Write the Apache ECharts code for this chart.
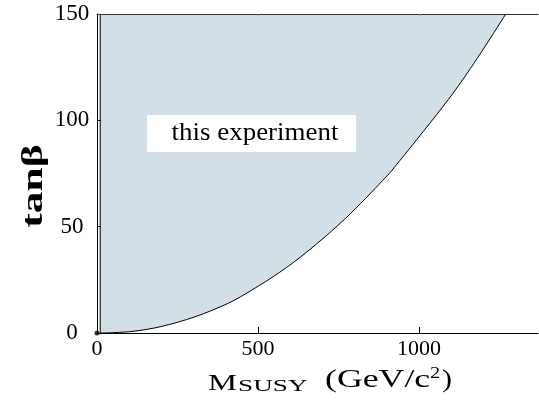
<!DOCTYPE html>
<html>
<head>
<meta charset="utf-8">
<script src="https://cdn.jsdelivr.net/npm/echarts@6/dist/echarts.min.js"></script>
<style>html,body{margin:0;padding:0;background:#fff}#c{width:539px;height:403px}</style>
</head>
<body>
<div id="c"></div>
<script>
// ---- data ----
const xTicks = [0, 500, 1000];
const yTicks = [0, 50, 100, 150];
// lower-right boundary of the region covered (M_SUSY in GeV/c^2, tan beta)
const curveM   = [10, 56, 118, 201, 304, 408, 481, 568, 656, 772, 888, 941, 1091, 1181, 1270];
const curveTan = [0, 0.2, 0.9, 3.1, 7.6, 14.0, 20.2, 28.6, 38.6, 53.9, 71.8, 81.1, 109.7, 129.1, 150];
// left edge of the region
const leftEdgeM = 10;
const originPoint = [[0, 0]];
const regionLabel = 'this experiment';

const xMin = 0, xMax = 1370, yMin = 0, yMax = 150;
const SERIF = '"Liberation Serif", "Times New Roman", serif';

const curveData = curveM.map((m, i) => [m, curveTan[i]]);

// smooth drawing path (Catmull-Rom rendered as cubic Bezier) through pixel points
function curvePath(pts) {
  let d = '';
  for (let i = 0; i < pts.length - 1; i++) {
    const p0 = pts[Math.max(0, i - 1)], p1 = pts[i], p2 = pts[i + 1], p3 = pts[Math.min(pts.length - 1, i + 2)];
    const c1 = [p1[0] + (p2[0] - p0[0]) / 6, p1[1] + (p2[1] - p0[1]) / 6];
    const c2 = [p2[0] - (p3[0] - p1[0]) / 6, p2[1] - (p3[1] - p1[1]) / 6];
    d += ' C' + c1[0] + ' ' + c1[1] + ' ' + c2[0] + ' ' + c2[1] + ' ' + p2[0] + ' ' + p2[1];
  }
  return d;
}

const chart = echarts.init(document.getElementById('c'), null, {renderer: 'canvas'});
chart.setOption({
  animation: false,
  backgroundColor: '#fff',
  grid: {left: 97, right: 1, top: 14, bottom: 70, containLabel: false},
  xAxis: [{
    type: 'value', min: xMin, max: xMax, interval: 500, position: 'bottom', z: 10,
    splitLine: {show: false},
    axisLine: {show: true, onZero: false, lineStyle: {color: '#000', width: 1}},
    axisTick: {show: true, inside: true, length: 6, customValues: xTicks.slice(1), lineStyle: {color: '#000'}},
    axisLabel: {customValues: xTicks, formatter: v => String(v), color: '#000', fontFamily: SERIF, fontSize: 22, margin: 5}
  }, {
    type: 'value', min: xMin, max: xMax, interval: 500, position: 'top', z: 10,
    splitLine: {show: false},
    axisLine: {show: true, onZero: false, lineStyle: {color: '#333', width: 1}},
    axisTick: {show: true, inside: true, length: 2, customValues: xTicks.slice(1), lineStyle: {color: '#999'}},
    axisLabel: {show: false}
  }],
  yAxis: [{
    type: 'value', min: yMin, max: yMax, interval: 50, z: 10,
    splitLine: {show: false},
    axisLine: {show: true, onZero: false, lineStyle: {color: '#000', width: 1}},
    axisTick: {show: true, inside: true, length: 4, customValues: yTicks.slice(1, 3), lineStyle: {color: '#000'}},
    axisLabel: {customValues: yTicks, formatter: v => String(v), color: '#000', fontFamily: SERIF, fontSize: 23, margin: 25, align: 'center'}
  }],
  series: [{
    type: 'custom',
    data: curveData,
    clip: true,
    z: 1,
    renderItem: function (params, api) {
      if (params.dataIndex !== 0) return null;
      const pts = curveData.map(p => api.coord(p));
      const topLeft = api.coord([leftEdgeM, yMax]);
      const c = curvePath(pts);
      const fillPath = 'M' + topLeft[0] + ' ' + topLeft[1] + ' L' + pts[0][0] + ' ' + pts[0][1] + c + ' Z';
      const linePath = 'M' + pts[0][0] + ' ' + pts[0][1] + c;
      return {
        type: 'group',
        children: [
          {type: 'path', shape: {pathData: fillPath}, style: {fill: '#d3dfe6', stroke: null}},
          {type: 'path', shape: {pathData: linePath}, style: {fill: null, stroke: '#000', lineWidth: 1}},
          {type: 'line', shape: {x1: topLeft[0], y1: topLeft[1], x2: pts[0][0], y2: pts[0][1]},
            style: {stroke: '#000', lineWidth: 1}}
        ]
      };
    }
  }, {
    type: 'scatter',
    data: originPoint,
    symbolSize: 5,
    itemStyle: {color: '#000'},
    z: 5
  }],
  graphic: [
    {type: 'rect', shape: {x: 147, y: 115, width: 209, height: 37}, style: {fill: '#fff'}, z: 10},
    {type: 'text', x: 255, y: 133.5, scaleX: 1.1, z: 11,
      style: {text: regionLabel, x: 0, y: 0, font: '24.5px ' + SERIF, fill: '#000', align: 'center', verticalAlign: 'middle'}},
    {type: 'text', x: 35, y: 186, rotation: Math.PI / 2, scaleX: 1.5, z: 11,
      style: {text: 'tanβ', x: 0, y: 0, font: 'bold 29px ' + SERIF, fill: '#000', align: 'center', verticalAlign: 'middle'}},
    {type: 'text', x: 208, y: 384, scaleX: 1.42, z: 11,
      style: {text: 'M', x: 0, y: 0, font: '23px ' + SERIF, fill: '#000', align: 'left', verticalAlign: 'middle'}},
    {type: 'text', x: 238, y: 387, scaleX: 1.6, z: 11,
      style: {text: 'SUSY', x: 0, y: 0, font: '17px ' + SERIF, fill: '#000', align: 'left', verticalAlign: 'middle'}},
    {type: 'text', x: 325, y: 380, scaleX: 1.43, z: 11,
      style: {text: '(GeV/c', x: 0, y: 0, font: '25px ' + SERIF, fill: '#000', align: 'left', verticalAlign: 'middle'}},
    {type: 'text', x: 430, y: 373.5, scaleX: 1.2, z: 11,
      style: {text: '2', x: 0, y: 0, font: '17px ' + SERIF, fill: '#000', align: 'left', verticalAlign: 'middle'}},
    {type: 'text', x: 442, y: 380, scaleX: 1.2, z: 11,
      style: {text: ')', x: 0, y: 0, font: '25px ' + SERIF, fill: '#000', align: 'left', verticalAlign: 'middle'}}
  ]
});
</script>
</body>
</html>
